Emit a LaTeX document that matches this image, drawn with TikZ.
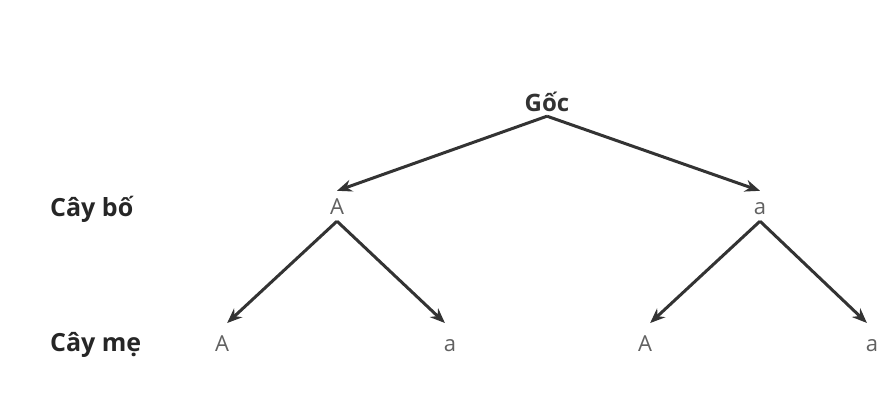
\documentclass[tikz,border=0pt]{standalone}
\usepackage{fontspec}
\IfFontExistsTF{Open Sans SemiBold}
  {\setmainfont{Open Sans}[BoldFont={Open Sans SemiBold}]}
  {\setmainfont{Open Sans}}
\usetikzlibrary{arrows.meta}
\begin{document}
\begin{tikzpicture}[x=1pt,y=-1pt,
  lbl/.style={font=\fontsize{25}{29}\selectfont\bfseries, text=black!85, inner sep=0pt, anchor=base west},
  allele/.style={font=\fontsize{22}{26}\selectfont, text=black!62, inner sep=7pt, text height=16pt, text depth=0pt, anchor=base},
  root/.style={font=\fontsize{24}{28}\selectfont\bfseries, text=black!80, inner sep=5pt, text depth=0pt, anchor=base},
  arr/.style={-{Stealth[length=15pt,width=12pt]}, line width=3pt, draw=black!80}]
\useasboundingbox (0,0) rectangle (880,396);
\node[root] (g) at (547,111) {Gốc};
\node[lbl] (bo) at (50,216) {Cây bố};
\node[lbl] (me) at (50,351) {Cây mẹ};
\node[allele] (A) at (337,214) {A};
\node[allele] (a) at (760,214) {a};
\node[allele] (A1) at (222,351) {A};
\node[allele] (a1) at (450,351) {a};
\node[allele] (A2) at (645,351) {A};
\node[allele] (a2) at (872,351) {a};
\draw[arr] (g.south) -- (A.north);
\draw[arr] (g.south) -- (a.north);
\draw[arr, shorten >=7pt] (A.south) -- (A1.north);
\draw[arr, shorten >=7pt] (A.south) -- (a1.north);
\draw[arr, shorten >=7pt] (a.south) -- (A2.north);
\draw[arr, shorten >=7pt] (a.south) -- (a2.north);
\end{tikzpicture}
\end{document}
